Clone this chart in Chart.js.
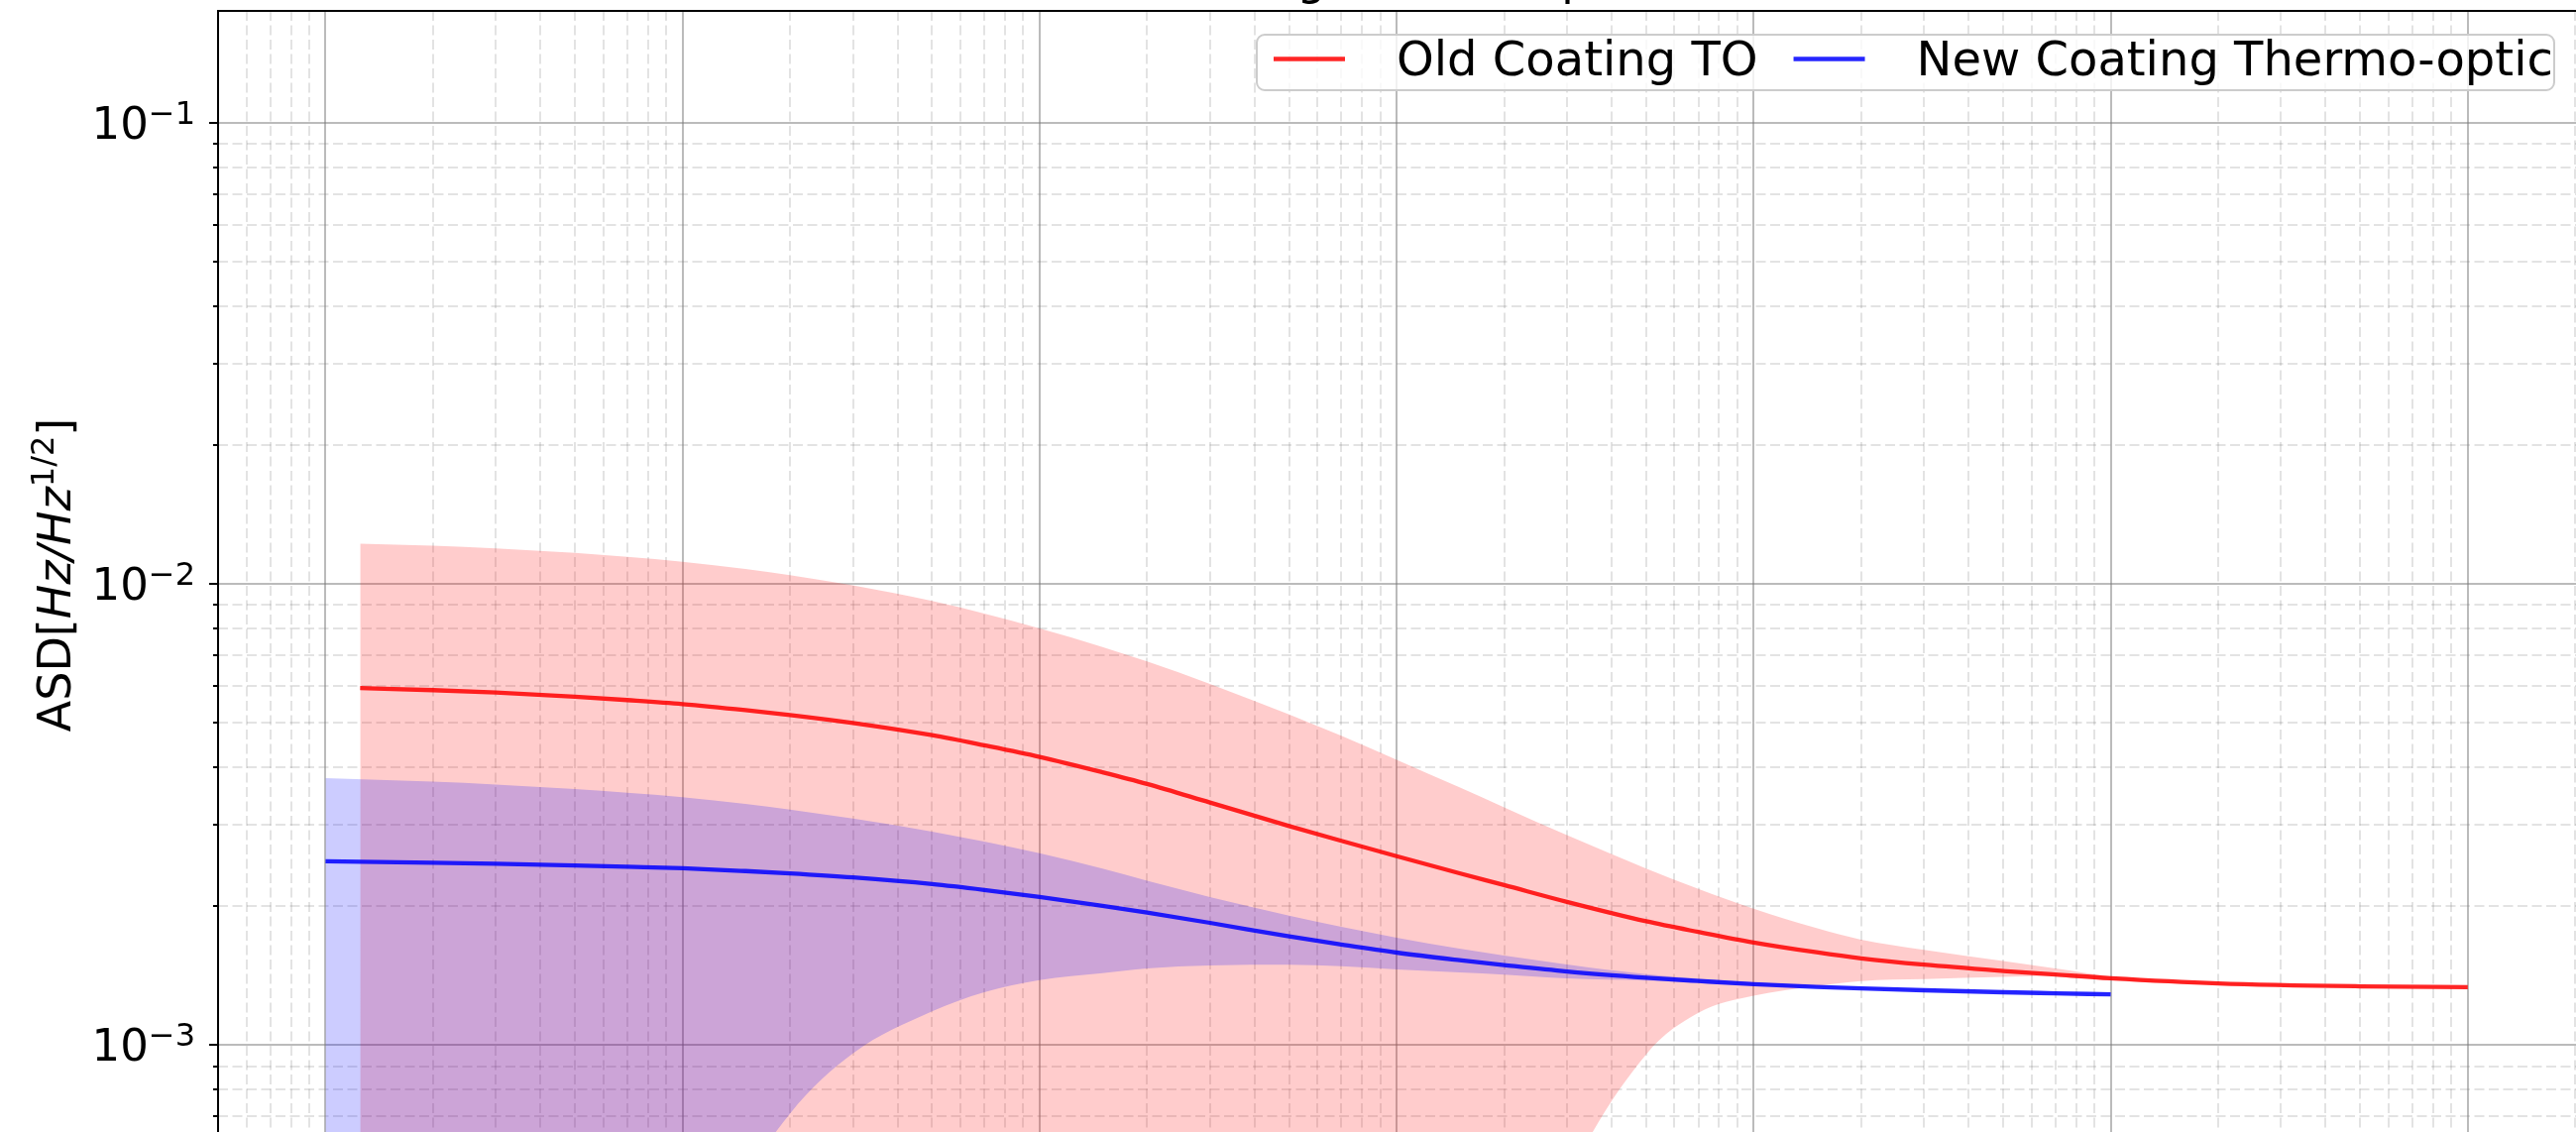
<!DOCTYPE html>
<html>
<head>
<meta charset="utf-8">
<script src="https://cdn.jsdelivr.net/npm/chart.js@4.4.1/dist/chart.umd.min.js"></script>
<style>
  html, body { margin: 0; padding: 0; background: #fff; overflow: hidden; }
  #wrap { width: 2599px; height: 1142px; }
</style>
</head>
<body>
<div id="wrap"><canvas id="asdChart" width="2599" height="1142"></canvas></div>
<script>
// frequency grids and ASD values
const redFreq = [1.25, 2, 3, 5, 7, 10, 15, 20, 30, 50, 70, 100, 150, 200, 300, 500, 700,
  1000, 1500, 2000, 3000, 5000, 7000, 10000, 15000, 20000, 30000, 50000, 70000,
  100000, 200000, 500000, 1000000];
const redAsd = [5.944e-3, 5.883e-3, 5.811e-3, 5.694e-3, 5.599e-3, 5.488e-3, 5.325e-3, 5.197e-3,
  4.994e-3, 4.697e-3, 4.465e-3, 4.215e-3, 3.904e-3, 3.683e-3, 3.357e-3, 2.985e-3, 2.773e-3,
  2.568e-3, 2.358e-3, 2.223e-3, 2.044e-3, 1.855e-3, 1.759e-3, 1.669e-3, 1.589e-3, 1.542e-3,
  1.494e-3, 1.448e-3, 1.422e-3, 1.396e-3, 1.361e-3, 1.341e-3, 1.335e-3];
const redUpper = [1.222e-2, 1.210e-2, 1.194e-2, 1.167e-2, 1.144e-2, 1.117e-2, 1.077e-2, 1.045e-2,
  9.93e-3, 9.18e-3, 8.62e-3, 8.00e-3, 7.30e-3, 6.79e-3, 6.07e-3, 5.21e-3, 4.683e-3,
  4.157e-3, 3.620e-3, 3.278e-3, 2.851e-3, 2.414e-3, 2.182e-3, 1.976e-3, 1.793e-3, 1.693e-3,
  1.609e-3, 1.521e-3, 1.466e-3, 1.410e-3, 1.366e-3, 1.342e-3, 1.335e-3];
const redLower = [1e-6, 1e-6, 1e-6, 1e-6, 1e-6, 1e-6, 1e-6, 1e-6, 1e-6, 1e-6, 1e-6, 1e-6, 1e-6,
  1e-6, 1e-6, 1e-6, 1e-6, 1e-5, 7.9e-5, 2.0e-4, 5.0e-4, 9.55e-4, 1.175e-3, 1.279e-3, 1.343e-3,
  1.377e-3, 1.390e-3, 1.406e-3, 1.413e-3, 1.380e-3, 1.352e-3, 1.337e-3, 1.334e-3];

const blueFreq = [1, 2, 3, 5, 7, 10, 15, 20, 30, 50, 70, 100, 150, 200, 300, 500, 700,
  1000, 1500, 2000, 3000, 5000, 7000, 10000, 15000, 20000, 30000, 50000, 70000, 100000];
const blueAsd = [2.503e-3, 2.486e-3, 2.473e-3, 2.452e-3, 2.436e-3, 2.418e-3, 2.384e-3, 2.356e-3,
  2.309e-3, 2.234e-3, 2.170e-3, 2.096e-3, 2.004e-3, 1.937e-3, 1.841e-3, 1.720e-3, 1.652e-3,
  1.587e-3, 1.528e-3, 1.491e-3, 1.444e-3, 1.400e-3, 1.377e-3, 1.355e-3, 1.337e-3, 1.327e-3,
  1.315e-3, 1.302e-3, 1.295e-3, 1.288e-3];
const blueUpper = [3.793e-3, 3.725e-3, 3.672e-3, 3.589e-3, 3.523e-3, 3.448e-3, 3.332e-3, 3.242e-3,
  3.098e-3, 2.902e-3, 2.761e-3, 2.606e-3, 2.413e-3, 2.272e-3, 2.095e-3, 1.909e-3, 1.805e-3,
  1.710e-3, 1.619e-3, 1.564e-3, 1.496e-3, 1.425e-3, 1.394e-3, 1.368e-3, 1.346e-3, 1.334e-3,
  1.321e-3, 1.307e-3, 1.300e-3, 1.293e-3];
const blueLower = [1e-6, 1e-6, 1e-6, 1e-5, 6.3e-5, 2.0e-4, 5.0e-4, 7.10e-4, 9.59e-4, 1.183e-3,
  1.302e-3, 1.384e-3, 1.432e-3, 1.467e-3, 1.489e-3, 1.493e-3, 1.482e-3, 1.459e-3, 1.438e-3,
  1.422e-3, 1.395e-3, 1.380e-3, 1.365e-3, 1.346e-3, 1.334e-3, 1.324e-3, 1.313e-3, 1.300e-3,
  1.293e-3, 1.287e-3];

// axes
const xMin = 0.5, xMax = 2.01e6;
const yMin = 6.48e-4, yMax = 0.1747;
const xMajorTicks = [1, 10, 100, 1e3, 1e4, 1e5, 1e6];
const yMajorTicks = [1e-3, 1e-2, 1e-1];
const yTickBase = ['10', '10', '10'];
const yTickExp = ['\u22123', '\u22122', '\u22121'];
const minorSteps = [2, 3, 4, 5, 6, 7, 8, 9];

const titleText = 'Coating Thermo-optic Noise';
const legendLabels = ['Old Coating TO', 'New Coating Thermo-optic'];

const FONT = "'DejaVu Sans', sans-serif";
const majorGrid = 'rgba(120,120,120,0.5)';
const minorGrid = 'rgba(128,128,128,0.22)';

function pts(xs, ys) {
  return xs.map((x, i) => ({ x: x, y: ys[i] }));
}

function minorTicks(lo, hi) {
  const out = [];
  for (let e = Math.floor(Math.log10(lo)); e <= Math.ceil(Math.log10(hi)); e++) {
    for (const m of minorSteps) {
      const v = m * Math.pow(10, e);
      if (v > lo * 1.0001 && v < hi) out.push(v);
    }
  }
  return out;
}

function tickIndex(v) {
  return yMajorTicks.findIndex(t => Math.abs(Math.log10(t) - Math.log10(v)) < 1e-6);
}

function zeroPad(s) {
  s.paddingTop = 0; s.paddingBottom = 0; s.paddingLeft = 0; s.paddingRight = 0;
}

// spines, tick labels with superscripts, title, y label and legend
const decorations = {
  id: 'decorations',
  afterDraw(chart) {
    const ctx = chart.ctx;
    const a = chart.chartArea;
    ctx.save();

    // top spine
    ctx.strokeStyle = '#000';
    ctx.lineWidth = 2;
    ctx.beginPath();
    ctx.moveTo(a.left - 1, a.top);
    ctx.lineTo(a.right, a.top);
    ctx.stroke();

    ctx.fillStyle = '#000';
    ctx.textBaseline = 'alphabetic';
    ctx.textAlign = 'left';

    // y tick labels 10^-n
    const ys = chart.scales.y;
    yMajorTicks.forEach((v, i) => {
      const py = ys.getPixelForValue(v);
      ctx.font = '32px ' + FONT;
      const we = ctx.measureText(yTickExp[i]).width;
      ctx.font = '45px ' + FONT;
      const wb = ctx.measureText(yTickBase[i]).width;
      const right = 197;
      ctx.fillText(yTickBase[i], right - we - wb, py + 16);
      ctx.font = '32px ' + FONT;
      ctx.fillText(yTickExp[i], right - we, py + 1);
    });

    // title, mostly cut off by the top of the figure
    ctx.font = '46px ' + FONT;
    ctx.fillText(titleText, 1160, -6);

    // y label: ASD[Hz/Hz^(1/2)]
    ctx.save();
    ctx.translate(71, 580);
    ctx.rotate(-Math.PI / 2);
    const parts = [
      { t: 'ASD[', f: '46px ' + FONT, dy: 0 },
      { t: 'Hz/Hz', f: 'italic 46px ' + FONT, dy: 0 },
      { t: '1/2', f: '32px ' + FONT, dy: -17 },
      { t: ']', f: '46px ' + FONT, dy: 0 }
    ];
    let total = 0;
    parts.forEach(p => { ctx.font = p.f; p.w = ctx.measureText(p.t).width; total += p.w; });
    let x = -total / 2;
    parts.forEach(p => { ctx.font = p.f; ctx.fillText(p.t, x, p.dy); x += p.w; });
    ctx.restore();

    // legend
    const box = { x: 1268, y: 35, w: 1309, h: 56 };
    ctx.fillStyle = 'rgba(255,255,255,0.8)';
    ctx.strokeStyle = '#cccccc';
    ctx.lineWidth = 2;
    ctx.beginPath();
    ctx.roundRect(box.x, box.y, box.w, box.h, 8);
    ctx.fill();
    ctx.stroke();

    ctx.font = '48px ' + FONT;
    let lx = box.x + 17;
    legendLabels.forEach(lbl => {
      const ds = chart.data.datasets.find(d => d.label === lbl);
      ctx.strokeStyle = ds.borderColor;
      ctx.lineWidth = ds.borderWidth;
      ctx.beginPath();
      ctx.moveTo(lx, 59.5);
      ctx.lineTo(lx + 72, 59.5);
      ctx.stroke();
      ctx.fillStyle = '#000';
      ctx.fillText(lbl, lx + 124, 76);
      lx += 124 + ctx.measureText(lbl).width + 36;
    });

    ctx.restore();
  }
};

new Chart(document.getElementById('asdChart'), {
  type: 'line',
  data: {
    datasets: [
      { label: 'New Coating Thermo-optic', data: pts(blueFreq, blueAsd), borderColor: 'rgba(0,0,255,0.85)',
        borderWidth: 4.3, pointRadius: 0, fill: false, cubicInterpolationMode: 'monotone' },
      { label: 'Old Coating TO', data: pts(redFreq, redAsd), borderColor: 'rgba(255,0,0,0.85)',
        borderWidth: 4.3, pointRadius: 0, fill: false, cubicInterpolationMode: 'monotone' },
      { label: 'New upper', data: pts(blueFreq, blueUpper), borderColor: 'transparent', borderWidth: 0,
        backgroundColor: 'rgba(0,0,255,0.2)', pointRadius: 0, fill: '+1', cubicInterpolationMode: 'monotone' },
      { label: 'New lower', data: pts(blueFreq, blueLower), borderColor: 'transparent', borderWidth: 0,
        pointRadius: 0, fill: false, cubicInterpolationMode: 'monotone' },
      { label: 'Old upper', data: pts(redFreq, redUpper), borderColor: 'transparent', borderWidth: 0,
        backgroundColor: 'rgba(255,0,0,0.2)', pointRadius: 0, fill: '+1', cubicInterpolationMode: 'monotone' },
      { label: 'Old lower', data: pts(redFreq, redLower), borderColor: 'transparent', borderWidth: 0,
        pointRadius: 0, fill: false, cubicInterpolationMode: 'monotone' }
    ]
  },
  options: {
    responsive: false,
    animation: false,
    devicePixelRatio: 1,
    layout: { padding: { top: 11, left: 0, right: 0, bottom: 0 } },
    plugins: {
      legend: { display: false },
      tooltip: { enabled: false },
      title: { display: false }
    },
    scales: {
      x: {
        type: 'logarithmic', position: 'bottom', min: xMin, max: xMax, bounds: 'data', weight: 1,
        afterBuildTicks: s => { s.ticks = xMajorTicks.map(v => ({ value: v })); },
        afterFit: s => { s.height = 0; zeroPad(s); },
        ticks: { display: false },
        grid: { color: majorGrid, lineWidth: 2, drawTicks: false },
        border: { display: false }
      },
      xm: {
        type: 'logarithmic', position: 'bottom', min: xMin, max: xMax, bounds: 'data', weight: 0,
        afterBuildTicks: s => { s.ticks = minorTicks(xMin, xMax).map(v => ({ value: v })); },
        afterFit: s => { s.height = 0; zeroPad(s); },
        ticks: { display: false },
        grid: { color: minorGrid, lineWidth: 2, drawTicks: false },
        border: { display: false, dash: [10, 4.5] }
      },
      y: {
        type: 'logarithmic', position: 'left', min: yMin, max: yMax, bounds: 'data', weight: 1,
        afterBuildTicks: s => { s.ticks = yMajorTicks.map(v => ({ value: v })); },
        afterFit: s => { s.width = 220; zeroPad(s); },
        ticks: { autoSkip: false, padding: 14, color: 'rgba(0,0,0,0)', font: { size: 45, family: FONT },
          callback: v => { const i = tickIndex(v); return i >= 0 ? yTickBase[i] + '^' + yTickExp[i] : ''; } },
        grid: { color: majorGrid, lineWidth: 2, tickColor: '#000', tickWidth: 2, tickLength: 9 },
        border: { display: true, color: '#000', width: 2 }
      },
      ym: {
        type: 'logarithmic', position: 'left', min: yMin, max: yMax, bounds: 'data', weight: 0,
        afterBuildTicks: s => { s.ticks = minorTicks(yMin, yMax).map(v => ({ value: v })); },
        afterFit: s => { s.width = 0; zeroPad(s); },
        ticks: { display: false },
        grid: { color: minorGrid, lineWidth: 2, tickColor: '#000', tickWidth: 2, tickLength: 5 },
        border: { display: false, dash: [10, 4.5] }
      }
    }
  },
  plugins: [decorations]
});
</script>
</body>
</html>
